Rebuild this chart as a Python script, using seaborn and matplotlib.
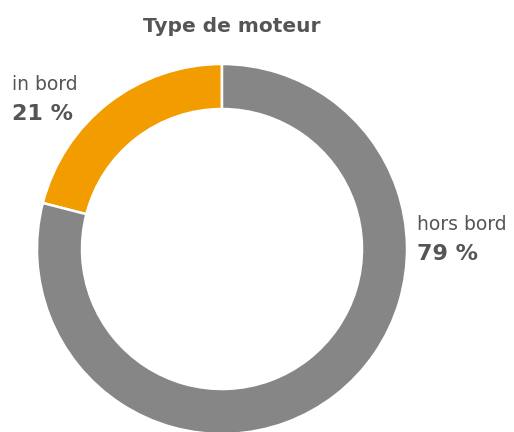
import matplotlib
matplotlib.use("Agg")
import matplotlib.pyplot as plt
import seaborn as sns

# Data
labels = ["in bord", "hors bord"]
shares = [21, 79]
colors = ["#F39C00", "#868686"]

sns.set_style("white")
plt.rcParams['font.family'] = ['DejaVu Sans']

# Figure in pixel-like coordinates (514 x 432)
fig = plt.figure(figsize=(5.14, 4.32), dpi=100)
ax = fig.add_axes([0, 0, 1, 1])

# Donut
ax.pie(shares, colors=colors, startangle=90, counterclock=True,
       center=(222, 183), radius=185, frame=True,
       wedgeprops=dict(width=45, edgecolor='white', linewidth=1.8))
ax.set_xlim(0, 514)
ax.set_ylim(0, 432)
ax.set_aspect('equal')
ax.axis('off')

# Title
txt = "#555555"
ax.text(232, 406, "Type de moteur", ha='center', va='center',
        fontsize=14.5, fontweight='bold', color=txt)

# Labels
ax.text(12, 348, labels[0], ha='left', va='center', fontsize=13.5, color=txt)
ax.text(12, 318, f"{shares[0]} %", ha='left', va='center', fontsize=16,
        fontweight='bold', color=txt)
ax.text(417, 207, labels[1], ha='left', va='center', fontsize=13.5, color=txt)
ax.text(417, 178, f"{shares[1]} %", ha='left', va='center', fontsize=16,
        fontweight='bold', color=txt)

fig.savefig("out.png", dpi=100)
